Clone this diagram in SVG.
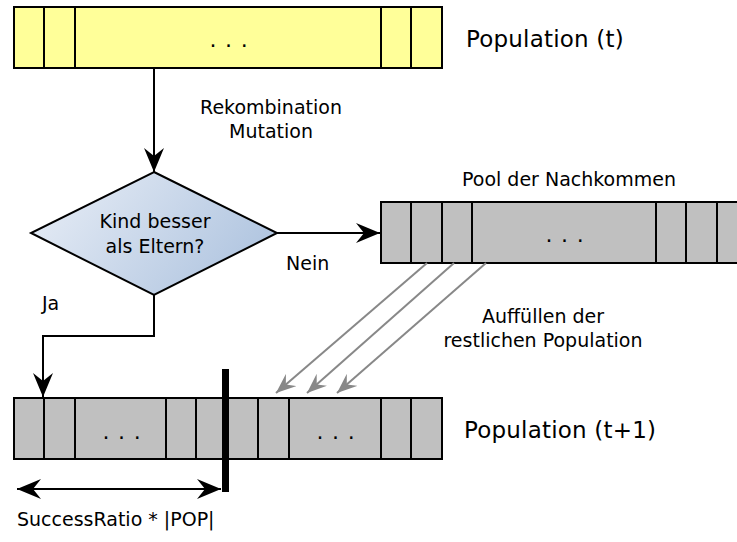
<svg xmlns="http://www.w3.org/2000/svg" width="737" height="542" viewBox="0 0 737 542">
  <style>
    .bar { stroke: #000; stroke-width: 2; }
    .div { stroke: #000; stroke-width: 2; }
    .yellow { fill: #ffff99; }
    .gray { fill: #c0c0c0; }
    text { font-family: "DejaVu Sans", "Liberation Sans", sans-serif; fill: #000; }
    .lbl { font-size: 19px; }
    .big { font-size: 23px; letter-spacing: 0.2px; }
    .dots { font-size: 22px; letter-spacing: 0.8px; text-anchor: middle; }
    .conn { stroke: #000; stroke-width: 2; fill: none; }
    .fill-conn { stroke: #888; stroke-width: 2; fill: none; }
  </style>
  <defs>
    <linearGradient id="diamondFill" x1="0" y1="0" x2="1" y2="0.4">
      <stop offset="0" stop-color="#eaeff7"/>
      <stop offset="1" stop-color="#b3c7e1"/>
    </linearGradient>
    <marker id="head" markerUnits="userSpaceOnUse" viewBox="-24 -10 24 20" refX="0" refY="0" markerWidth="24" markerHeight="20" orient="auto-start-reverse">
      <path d="M0,0 L-24,-10 L-16,0 L-24,10 Z" fill="#000"/>
    </marker>
    <marker id="grayHead" markerUnits="userSpaceOnUse" viewBox="-20 -8 20 16" refX="0" refY="0" markerWidth="20" markerHeight="16" orient="auto">
      <path d="M0,0 L-20,-8 L-13,0 L-20,8 Z" fill="#888"/>
    </marker>
  </defs>

  <!-- current generation -->
  <g id="population-t">
    <rect class="bar yellow" x="14" y="7" width="428" height="61"/>
    <path class="div" d="M44,7 V68 M75,7 V68 M381,7 V68 M411,7 V68"/>
    <text class="dots" x="229" y="47">. . .</text>
    <text class="big" x="466" y="47">Population (t)</text>
  </g>

  <!-- decision -->
  <g id="decision">
    <polygon points="154,172 277,233 154,295 31,233" fill="url(#diamondFill)" stroke="#000" stroke-width="2"/>
    <text class="lbl" x="155" y="228" text-anchor="middle">Kind besser</text>
    <text class="lbl" x="155" y="253" text-anchor="middle">als Eltern?</text>
  </g>

  <!-- offspring pool -->
  <g id="pool">
    <rect class="bar gray" x="381" y="202" width="366" height="61"/>
    <path class="div" d="M411,202 V263 M442,202 V263 M472,202 V263 M656,202 V263 M686,202 V263 M717,202 V263"/>
    <text class="dots" x="565" y="242">. . .</text>
    <text class="lbl" x="569" y="186" text-anchor="middle">Pool der Nachkommen</text>
  </g>

  <!-- next generation -->
  <g id="population-t1">
    <rect class="bar gray" x="14" y="398" width="428" height="61"/>
    <path class="div" d="M44,398 V459 M75,398 V459 M166,398 V459 M196,398 V459 M227,398 V459 M258,398 V459 M289,398 V459 M381,398 V459 M411,398 V459"/>
    <text class="dots" x="122" y="439">. . .</text>
    <text class="dots" x="336" y="439">. . .</text>
    <text class="big" x="464" y="438">Population (t+1)</text>
  </g>

  <!-- split marker and its extent -->
  <g id="success-ratio">
    <rect x="222" y="369" width="7" height="123" fill="#000"/>
    <text class="lbl" x="17" y="526">SuccessRatio * |POP|</text>
  </g>

  <g id="connectors">
    <line class="conn" x1="154" y1="68" x2="154" y2="172" marker-end="url(#head)"/>
    <text class="lbl" x="271" y="114" text-anchor="middle">Rekombination</text>
    <text class="lbl" x="271" y="138" text-anchor="middle">Mutation</text>
    <line class="conn" x1="277" y1="233" x2="380" y2="233" marker-end="url(#head)"/>
    <text class="lbl" x="286" y="270">Nein</text>
    <path class="conn" d="M154,295 V336 H43 V397" marker-end="url(#head)"/>
    <text class="lbl" x="42" y="310">Ja</text>
    <line class="conn" x1="17" y1="489" x2="221" y2="489" marker-start="url(#head)" marker-end="url(#head)"/>
    <line class="fill-conn" x1="427" y1="263" x2="276" y2="393" marker-end="url(#grayHead)"/>
    <line class="fill-conn" x1="454" y1="263" x2="307" y2="393" marker-end="url(#grayHead)"/>
    <line class="fill-conn" x1="486" y1="263" x2="337" y2="393" marker-end="url(#grayHead)"/>
    <text class="lbl" x="543" y="323" text-anchor="middle">Auffüllen der</text>
    <text class="lbl" x="543" y="347" text-anchor="middle">restlichen Population</text>
  </g>
</svg>
